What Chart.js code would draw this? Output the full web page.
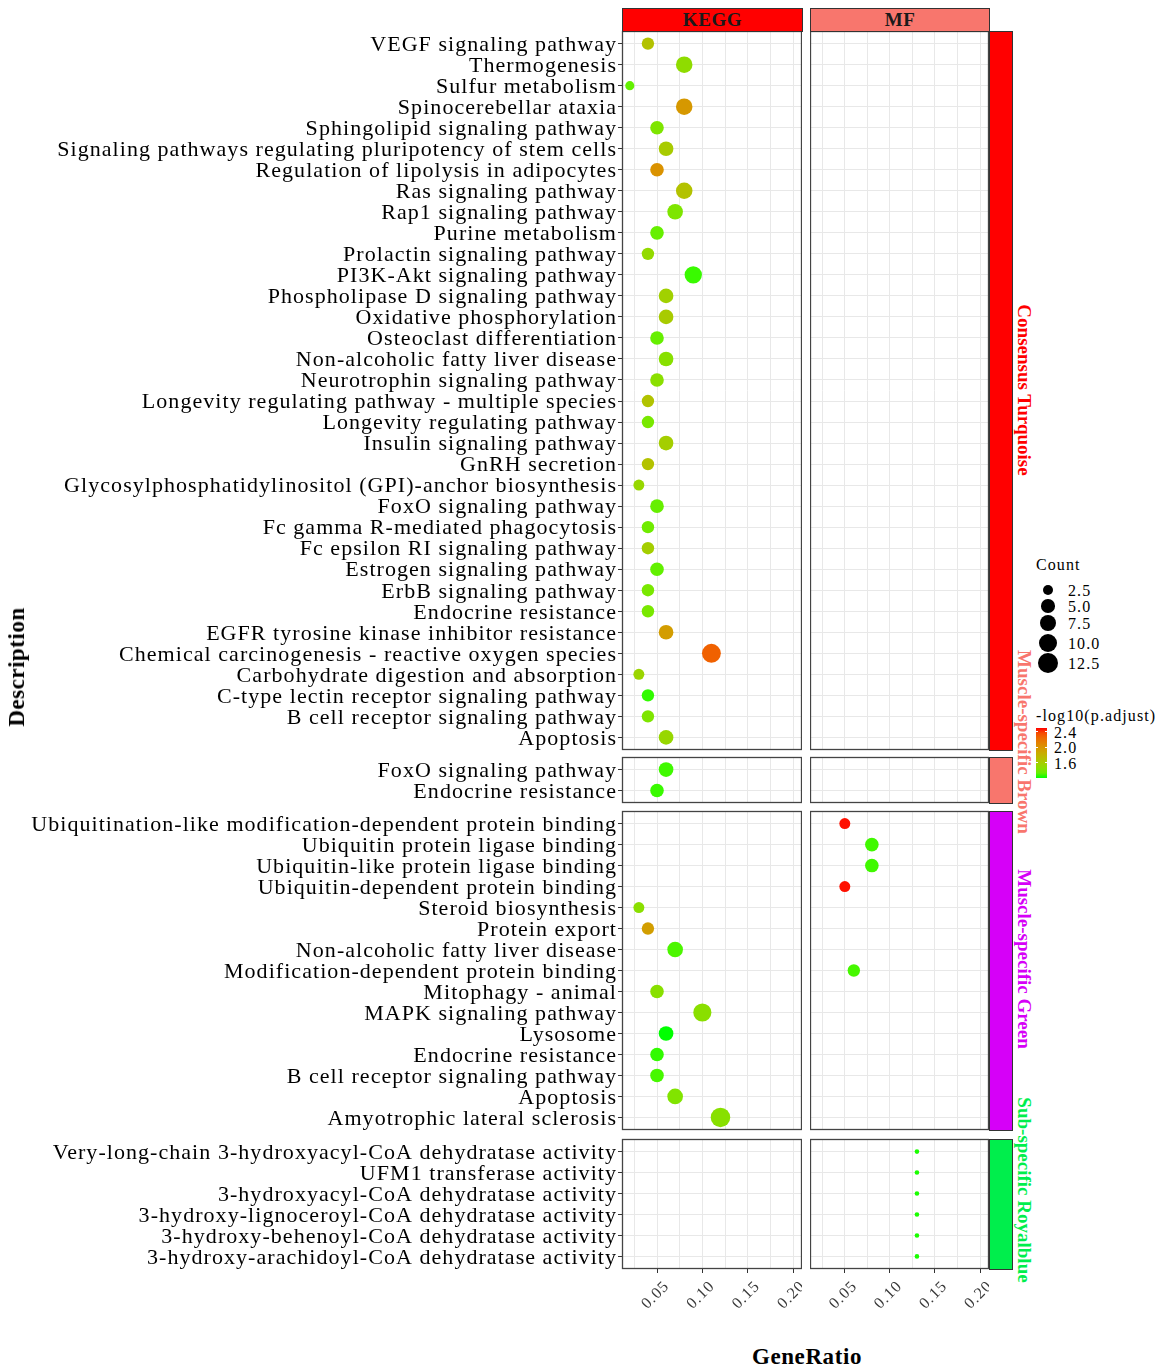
<!DOCTYPE html>
<html>
<head>
<meta charset="utf-8">
<script src="https://cdn.jsdelivr.net/npm/chart.js@4.4.1/dist/chart.umd.min.js"></script>
<style>
  body { margin: 0; width: 1170px; height: 1372px; position: relative; overflow: hidden; background: #fff; font-family: "Liberation Serif", serif; }
  canvas { position: absolute; }
  .strip { position: absolute; box-sizing: border-box; border: 1px solid #333; }
  .txt { position: absolute; white-space: nowrap; line-height: 1; }
  .leg { letter-spacing: 1.1px; }
</style>
</head>
<body>
<script>
// ---- data ----
const turqTerms = [
  'VEGF signaling pathway', 'Thermogenesis', 'Sulfur metabolism', 'Spinocerebellar ataxia',
  'Sphingolipid signaling pathway', 'Signaling pathways regulating pluripotency of stem cells',
  'Regulation of lipolysis in adipocytes', 'Ras signaling pathway', 'Rap1 signaling pathway',
  'Purine metabolism', 'Prolactin signaling pathway', 'PI3K-Akt signaling pathway',
  'Phospholipase D signaling pathway', 'Oxidative phosphorylation', 'Osteoclast differentiation',
  'Non-alcoholic fatty liver disease', 'Neurotrophin signaling pathway',
  'Longevity regulating pathway - multiple species', 'Longevity regulating pathway',
  'Insulin signaling pathway', 'GnRH secretion', 'Glycosylphosphatidylinositol (GPI)-anchor biosynthesis',
  'FoxO signaling pathway', 'Fc gamma R-mediated phagocytosis', 'Fc epsilon RI signaling pathway',
  'Estrogen signaling pathway', 'ErbB signaling pathway', 'Endocrine resistance',
  'EGFR tyrosine kinase inhibitor resistance', 'Chemical carcinogenesis - reactive oxygen species',
  'Carbohydrate digestion and absorption', 'C-type lectin receptor signaling pathway',
  'B cell receptor signaling pathway', 'Apoptosis'
];
const turqKeggRatio = [0.04, 0.08, 0.02, 0.08, 0.05, 0.06, 0.05, 0.08, 0.07, 0.05, 0.04, 0.09, 0.06, 0.06, 0.05, 0.06, 0.05,
  0.04, 0.04, 0.06, 0.04, 0.03, 0.05, 0.04, 0.04, 0.05, 0.04, 0.04, 0.06, 0.11, 0.03, 0.04, 0.04, 0.06];
const turqKeggCount = [4, 8, 2, 8, 5, 6, 5, 8, 7, 5, 4, 9, 6, 6, 5, 6, 5, 4, 4, 6, 4, 3, 5, 4, 4, 5, 4, 4, 6, 11, 3, 4, 4, 6];
const turqKeggLogP = [1.69, 1.49, 1.33, 1.98, 1.42, 1.62, 2.02, 1.69, 1.42, 1.34, 1.51, 1.25, 1.58, 1.62, 1.34, 1.46, 1.47,
  1.68, 1.40, 1.60, 1.69, 1.53, 1.34, 1.37, 1.60, 1.33, 1.40, 1.40, 1.95, 2.28, 1.55, 1.24, 1.42, 1.53];

const brownTerms = ['FoxO signaling pathway', 'Endocrine resistance'];
const brownKeggRatio = [0.06, 0.05];
const brownKeggCount = [6, 5];
const brownKeggLogP = [1.26, 1.25];

const greenTerms = [
  'Ubiquitination-like modification-dependent protein binding', 'Ubiquitin protein ligase binding',
  'Ubiquitin-like protein ligase binding', 'Ubiquitin-dependent protein binding', 'Steroid biosynthesis',
  'Protein export', 'Non-alcoholic fatty liver disease', 'Modification-dependent protein binding',
  'Mitophagy - animal', 'MAPK signaling pathway', 'Lysosome', 'Endocrine resistance',
  'B cell receptor signaling pathway', 'Apoptosis', 'Amyotrophic lateral sclerosis'
];
const greenKeggRatio = [null, null, null, null, 0.03, 0.04, 0.07, null, 0.05, 0.10, 0.06, 0.05, 0.05, 0.07, 0.12];
const greenKeggCount = [null, null, null, null, 3, 4, 7, null, 5, 10, 6, 5, 5, 7, 12];
const greenKeggLogP = [null, null, null, null, 1.47, 1.94, 1.28, null, 1.46, 1.47, 1.21, 1.24, 1.27, 1.43, 1.46];
const greenMfRatio = [0.05, 0.08, 0.08, 0.05, null, null, null, 0.06, null, null, null, null, null, null, null];
const greenMfCount = [3, 5, 5, 3, null, null, null, 4, null, null, null, null, null, null, null];
const greenMfLogP = [2.49, 1.26, 1.26, 2.49, null, null, null, 1.27, null, null, null, null, null, null, null];

const royalTerms = [
  'Very-long-chain 3-hydroxyacyl-CoA dehydratase activity', 'UFM1 transferase activity',
  '3-hydroxyacyl-CoA dehydratase activity', '3-hydroxy-lignoceroyl-CoA dehydratase activity',
  '3-hydroxy-behenoyl-CoA dehydratase activity', '3-hydroxy-arachidoyl-CoA dehydratase activity'
];
const royalMfRatio = [0.13, 0.13, 0.13, 0.13, 0.13, 0.13];
const royalMfCount = [1, 1, 1, 1, 1, 1];
const royalMfLogP = [1.22, 1.22, 1.22, 1.22, 1.22, 1.22];

const facetCols = ['KEGG', 'MF'];
const facetRows = ['Consensus Turquoise', 'Muscle-specific Brown', 'Muscle-specific Green', 'Sub-specific Royalblue'];
const xTickLabels = [0.05, 0.10, 0.15, 0.20];
const countBreaks = [2.5, 5.0, 7.5, 10.0, 12.5];
const colorBreaks = [2.4, 2.0, 1.6];
const countLimits = [1, 13];
const colorLimits = [1.21, 2.5];

// ---- layout ----
const colBox = [{ l: 622, r: 802 }, { l: 810, r: 989 }];
const rowBox = [{ t: 31, b: 750 }, { t: 757, b: 803 }, { t: 811, b: 1130 }, { t: 1139, b: 1269 }];
const stripFill = ['#ff0000', '#f8766d', '#d600f8', '#00ee4c'];
const xMin = 0.0114, xMax = 0.2099;
const serif = 'Liberation Serif';

// size scale like ggplot scale_size (area)
function radiusOf(c) {
  const t = Math.max(0, (c - countLimits[0]) / (countLimits[1] - countLimits[0]));
  return 2.3 + 7.8 * Math.sqrt(t);
}

// colour gradient green -> red interpolated in Lab
function lin(c) { c /= 255; return c <= 0.04045 ? c / 12.92 : Math.pow((c + 0.055) / 1.055, 2.4); }
function gam(c) { c = c <= 0.0031308 ? 12.92 * c : 1.055 * Math.pow(c, 1 / 2.4) - 0.055; return Math.round(Math.max(0, Math.min(1, c)) * 255); }
function toLab(r, g, b) {
  const R = lin(r), G = lin(g), B = lin(b);
  const X = (0.4124 * R + 0.3576 * G + 0.1805 * B) / 0.95047;
  const Y = 0.2126 * R + 0.7152 * G + 0.0722 * B;
  const Z = (0.0193 * R + 0.1192 * G + 0.9505 * B) / 1.08883;
  const f = t => t > 0.008856 ? Math.cbrt(t) : 7.787 * t + 16 / 116;
  return [116 * f(Y) - 16, 500 * (f(X) - f(Y)), 200 * (f(Y) - f(Z))];
}
function fromLab(L, a, b) {
  const fy = (L + 16) / 116, fx = fy + a / 500, fz = fy - b / 200;
  const inv = t => t * t * t > 0.008856 ? t * t * t : (t - 16 / 116) / 7.787;
  const X = 0.95047 * inv(fx), Y = inv(fy), Z = 1.08883 * inv(fz);
  const R = 3.2406 * X - 1.5372 * Y - 0.4986 * Z;
  const G = -0.9689 * X + 1.8758 * Y + 0.0415 * Z;
  const B = 0.0557 * X - 0.2040 * Y + 1.0570 * Z;
  return 'rgb(' + gam(R) + ',' + gam(G) + ',' + gam(B) + ')';
}
const labLo = toLab(0, 255, 0), labHi = toLab(255, 0, 0);
function colorOf(v) {
  const t = Math.max(0, Math.min(1, (v - colorLimits[0]) / (colorLimits[1] - colorLimits[0])));
  return fromLab(labLo[0] + (labHi[0] - labLo[0]) * t, labLo[1] + (labHi[1] - labLo[1]) * t, labLo[2] + (labHi[2] - labLo[2]) * t);
}

const isMajor = v => Math.abs(Math.round(v * 1000) % 50) === 0;

// panel border on top, and a wider text set like the original
const panelBox = {
  id: 'panelBox',
  beforeDraw(chart) { chart.ctx.letterSpacing = '1.05px'; },
  afterDraw(chart) {
    const { ctx, chartArea: a } = chart;
    ctx.save();
    ctx.strokeStyle = '#444';
    ctx.lineWidth = 1.3;
    ctx.strokeRect(a.left + 0.5, a.top + 0.5, a.right - a.left - 1, a.bottom - a.top - 1);
    ctx.restore();
  }
};

function noPad(s) { s.paddingLeft = 0; s.paddingRight = 0; s.paddingTop = 0; s.paddingBottom = 0; }

function pointsFrom(ratio, count, logp) {
  const out = [];
  ratio.forEach((r, i) => {
    if (r !== null) out.push({ x: r, y: i, c: count[i], v: logp[i] });
  });
  return out;
}

function panel(ri, ci, terms, pts) {
  const bottom = ri === rowBox.length - 1;
  const col = colBox[ci], row = rowBox[ri];
  const padT = 14, padB = bottom ? 0 : 8;
  const axisH = bottom ? 70 : 0;
  const left = ci === 0 ? 0 : col.l;
  const w = col.r - left;
  const h = padT + (row.b - row.t) + padB + axisH;
  const cv = document.createElement('canvas');
  cv.width = w; cv.height = h;
  cv.style.left = left + 'px'; cv.style.top = (row.t - padT) + 'px';
  cv.style.width = w + 'px'; cv.style.height = h + 'px';
  document.body.appendChild(cv);
  new Chart(cv, {
    type: 'scatter',
    data: {
      datasets: [{
        data: pts,
        pointRadius: c => c.raw ? radiusOf(c.raw.c) : 3,
        pointBackgroundColor: c => c.raw ? colorOf(c.raw.v) : '#000',
        pointBorderWidth: 0
      }]
    },
    options: {
      responsive: false,
      animation: false,
      events: [],
      layout: { padding: { top: padT, bottom: padB, left: 0, right: 0 }, autoPadding: false },
      plugins: { legend: { display: false }, tooltip: { enabled: false } },
      scales: {
        x: {
          type: 'linear', min: xMin, max: xMax,
          afterFit: s => { s.height = axisH; noPad(s); },
          border: { display: false },
          grid: {
            color: '#e8e8e8', lineWidth: 1, drawTicks: bottom, tickLength: 4,
            tickColor: c => (c.tick && isMajor(c.tick.value)) ? '#333' : 'rgba(0,0,0,0)'
          },
          ticks: {
            display: bottom, stepSize: 0.025, autoSkip: false, includeBounds: false,
            minRotation: 45, maxRotation: 45, padding: 4, labelOffset: 10, color: '#3a3a3a',
            font: { family: serif, size: 16 },
            callback: v => isMajor(v) && xTickLabels.some(t => Math.abs(t - v) < 1e-6) ? v.toFixed(2) : ''
          }
        },
        y: {
          type: 'linear', reverse: true, min: -0.6, max: terms.length - 0.4,
          afterFit: s => { s.width = ci === 0 ? col.l : 0; noPad(s); },
          border: { display: false },
          grid: { color: '#e8e8e8', lineWidth: 1, drawTicks: ci === 0, tickLength: 4, tickColor: '#333' },
          ticks: {
            display: ci === 0, stepSize: 1, autoSkip: false, includeBounds: false, padding: 1, labelOffset: 1.5,
            color: '#000', font: { family: serif, size: 22 },
            callback: v => terms[Math.round(v)] ?? ''
          }
        }
      }
    },
    plugins: [panelBox]
  });
}

panel(0, 0, turqTerms, pointsFrom(turqKeggRatio, turqKeggCount, turqKeggLogP));
panel(0, 1, turqTerms, []);
panel(1, 0, brownTerms, pointsFrom(brownKeggRatio, brownKeggCount, brownKeggLogP));
panel(1, 1, brownTerms, []);
panel(2, 0, greenTerms, pointsFrom(greenKeggRatio, greenKeggCount, greenKeggLogP));
panel(2, 1, greenTerms, pointsFrom(greenMfRatio, greenMfCount, greenMfLogP));
panel(3, 0, royalTerms, []);
panel(3, 1, royalTerms, pointsFrom(royalMfRatio, royalMfCount, royalMfLogP));

// ---- strips, titles, legends ----
function el(cls, css, text) {
  const d = document.createElement('div');
  d.className = cls;
  Object.assign(d.style, css);
  if (text !== undefined) d.textContent = text;
  document.body.appendChild(d);
  return d;
}
const topFill = ['#ff0000', '#f8766d'];
facetCols.forEach((name, i) => {
  el('strip', { left: colBox[i].l + 'px', top: '8px', width: (colBox[i].r - colBox[i].l + 1) + 'px', height: '24px',
    background: topFill[i], font: 'bold 19px "Liberation Serif"', textAlign: 'center', lineHeight: '22px', color: '#1a1a1a', letterSpacing: '0.6px' }, name);
});
const stripTextMid = [390, 742, 959, 1190];
facetRows.forEach((name, i) => {
  el('strip', { left: '989px', top: rowBox[i].t + 'px', width: '24px', height: (rowBox[i].b - rowBox[i].t + 1) + 'px', background: stripFill[i] });
  el('txt', { font: 'bold 19px "Liberation Serif"', color: stripFill[i], left: '1024px', top: stripTextMid[i] + 'px',
    transform: 'translate(-50%,-50%) rotate(90deg)' }, name);
});

el('txt', { font: 'bold 23px "Liberation Serif"', left: '807px', top: '1357px', transform: 'translate(-50%,-50%)', color: '#000', letterSpacing: '0.6px' }, 'GeneRatio');
el('txt', { font: 'bold 23px "Liberation Serif"', left: '17px', top: '667px', transform: 'translate(-50%,-50%) rotate(-90deg)', color: '#000', letterSpacing: '0.5px' }, 'Description');

// count legend
el('txt leg', { font: '16px "Liberation Serif"', left: '1036px', top: '556px' }, 'Count');
const countY = [590, 606, 623, 643, 663];
countBreaks.forEach((b, i) => {
  const r = radiusOf(b);
  el('txt', { left: (1048 - r) + 'px', top: (countY[i] - r) + 'px', width: 2 * r + 'px', height: 2 * r + 'px', borderRadius: '50%', background: '#000' });
  el('txt leg', { font: '16px "Liberation Serif"', left: '1068px', top: (countY[i] - 8) + 'px' }, b.toFixed(1));
});

// colour bar legend
el('txt leg', { font: '16px "Liberation Serif"', left: '1036px', top: '707px' }, '-log10(p.adjust)');
const barTop = 728, barH = 50;
const stops = [];
for (let k = 0; k <= 10; k++) {
  const v = colorLimits[1] - (colorLimits[1] - colorLimits[0]) * k / 10;
  stops.push(colorOf(v) + ' ' + (k * 10) + '%');
}
el('txt', { left: '1036px', top: barTop + 'px', width: '11px', height: barH + 'px', background: 'linear-gradient(to bottom,' + stops.join(',') + ')' });
colorBreaks.forEach(b => {
  const y = barTop + barH * (colorLimits[1] - b) / (colorLimits[1] - colorLimits[0]);
  el('txt', { left: '1036px', top: (y - 0.5) + 'px', width: '2px', height: '1px', background: '#fff' });
  el('txt', { left: '1045px', top: (y - 0.5) + 'px', width: '2px', height: '1px', background: '#fff' });
  el('txt leg', { font: '16px "Liberation Serif"', left: '1054px', top: (y - 8) + 'px' }, b.toFixed(1));
});
</script>
</body>
</html>
